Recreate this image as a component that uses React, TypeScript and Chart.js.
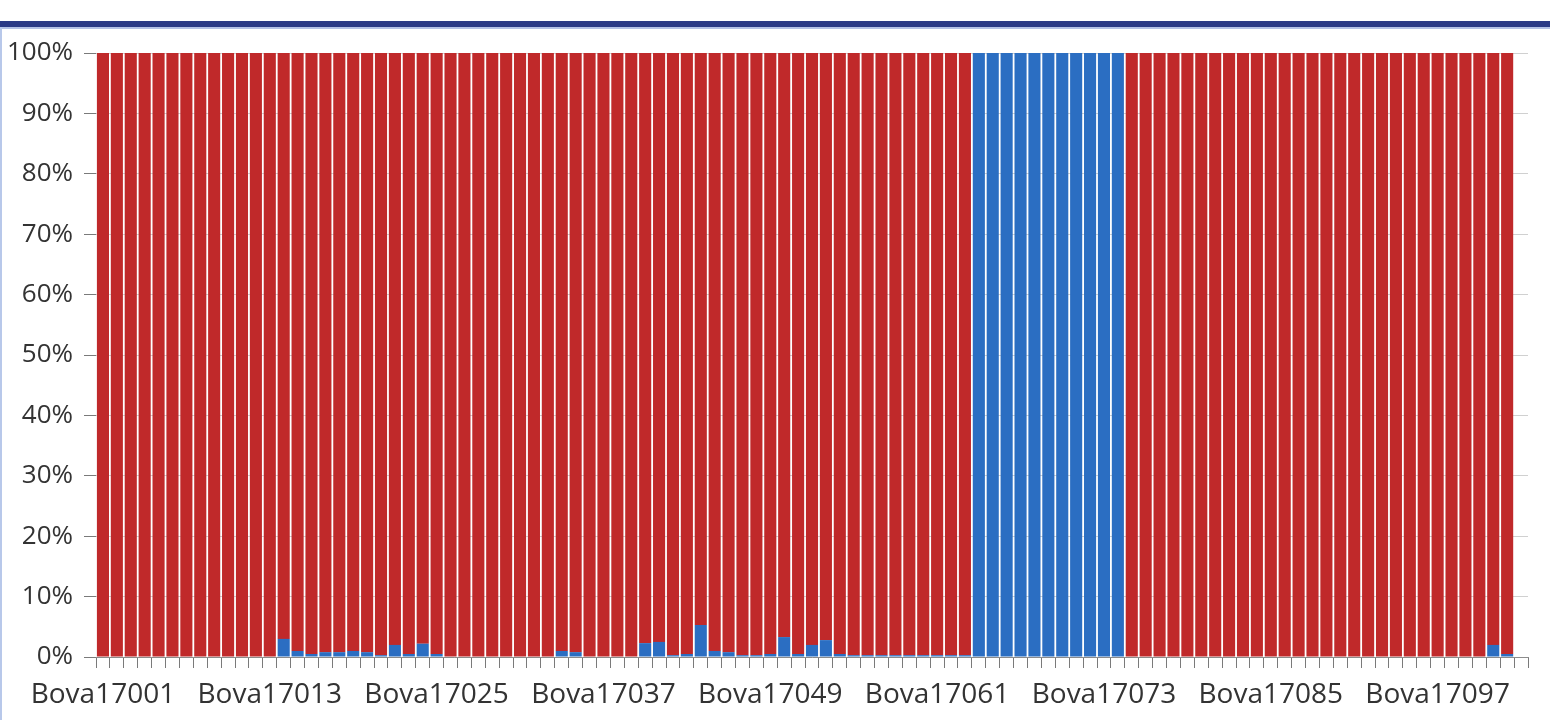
import React, { useEffect, useRef } from "react";
import { Chart, registerables } from "chart.js";

Chart.register(...registerables);

// Categories: Bova17001 ... Bova17102, plus one empty trailing slot
const categories: string[] = Array.from({ length: 103 }, (_, i) => "Bova" + (17001 + i));

// Share (%) of the blue cluster per sample (bottom of each stack)
const blueShare: (number | null)[] = [
  0, 0, 0, 0, 0, 0, 0, 0, 0, 0, 0, 0, 0,
  3.0, 1.0, 0.5, 0.8, 0.8, 1.0, 0.8, 0.3, 2.0, 0.5, 2.2, 0.5,
  0, 0, 0, 0, 0, 0, 0, 0,
  1.0, 0.8,
  0, 0, 0, 0,
  2.3, 2.5, 0.3, 0.5, 5.3, 1.0, 0.8, 0.3, 0.3, 0.5, 3.3, 0.5, 2.0, 2.8, 0.5,
  0.3, 0.3, 0.3, 0.3, 0.3, 0.3, 0.3, 0.3, 0.3,
  100, 100, 100, 100, 100, 100, 100, 100, 100, 100, 100,
  0, 0, 0, 0, 0, 0, 0, 0, 0, 0, 0, 0, 0, 0, 0, 0, 0, 0, 0, 0, 0, 0, 0, 0, 0, 0,
  2.0, 0.5,
  null,
];

// Share (%) of the red cluster per sample (top of each stack)
const redShare: (number | null)[] = [
  100, 100, 100, 100, 100, 100, 100, 100, 100, 100, 100, 100, 100,
  97.0, 99.0, 99.5, 99.2, 99.2, 99.0, 99.2, 99.7, 98.0, 99.5, 97.8, 99.5,
  100, 100, 100, 100, 100, 100, 100, 100,
  99.0, 99.2,
  100, 100, 100, 100,
  97.7, 97.5, 99.7, 99.5, 94.7, 99.0, 99.2, 99.7, 99.7, 99.5, 96.7, 99.5, 98.0, 97.2, 99.5,
  99.7, 99.7, 99.7, 99.7, 99.7, 99.7, 99.7, 99.7, 99.7,
  0, 0, 0, 0, 0, 0, 0, 0, 0, 0, 0,
  100, 100, 100, 100, 100, 100, 100, 100, 100, 100, 100, 100, 100, 100, 100, 100, 100, 100, 100, 100, 100, 100, 100, 100, 100, 100,
  98.0, 99.5,
  null,
];

const yTicks: number[] = [0, 10, 20, 30, 40, 50, 60, 70, 80, 90, 100];
const labelEvery = 12;

export default function App() {
  const canvasRef = useRef<HTMLCanvasElement | null>(null);

  useEffect(() => {
    const canvas = canvasRef.current;
    if (!canvas) return;
    const chart = new Chart(canvas, {
      type: "bar",
      data: {
        labels: categories,
        datasets: [
          {
            label: "Cluster 2",
            data: blueShare,
            backgroundColor: "#2B6EC2",
            barPercentage: 0.87,
            categoryPercentage: 1,
          },
          {
            label: "Cluster 1",
            data: redShare,
            backgroundColor: "#C0292A",
            barPercentage: 0.87,
            categoryPercentage: 1,
          },
        ],
      },
      options: {
        animation: false,
        responsive: false,
        devicePixelRatio: 1,
        layout: { padding: { top: 53, right: 22, bottom: 0, left: 0 } },
        plugins: {
          legend: { display: false },
          tooltip: { enabled: false },
        },
        scales: {
          x: {
            stacked: true,
            offset: true,
            afterFit: (s: any) => {
              s.height = 63;
            },
            grid: {
              drawOnChartArea: false,
              drawTicks: true,
              tickLength: 11,
              tickColor: "#7A7A7A",
              offset: true,
            },
            border: { display: true, color: "#8C8C8C", width: 1 },
            ticks: {
              autoSkip: false,
              maxRotation: 0,
              minRotation: 0,
              padding: 10,
              color: "#333333",
              font: { family: "Open Sans", size: 28 },
              callback: (_v: any, i: number) => (i % labelEvery === 0 ? categories[i] : ""),
            },
          },
          y: {
            stacked: true,
            min: 0,
            max: 100,
            afterFit: (s: any) => {
              s.width = 96;
            },
            afterBuildTicks: (s: any) => {
              s.ticks = yTicks.map((v) => ({ value: v }));
            },
            grid: {
              color: "#D0D0D0",
              drawTicks: true,
              tickLength: 12,
              tickColor: "#7A7A7A",
            },
            border: { display: false },
            ticks: {
              padding: 11,
              color: "#333333",
              font: { family: "Open Sans", size: 26 },
              callback: (v: any) => v + "%",
            },
          },
        },
      },
    });
    return () => chart.destroy();
  }, []);

  return (
    <div
      style={{
        position: "fixed",
        left: 0,
        top: 0,
        width: 1550,
        height: 720,
        background: "#ffffff",
        overflow: "hidden",
      }}
    >
      <canvas
        ref={canvasRef}
        width={1550}
        height={720}
        style={{ position: "absolute", left: 0, top: 0, width: 1550, height: 720 }}
      />
      <div
        style={{
          position: "absolute",
          left: 0,
          top: 21,
          width: 1550,
          height: 6,
          background: "#2A3A86",
        }}
      />
      <div
        style={{
          position: "absolute",
          left: 0,
          top: 27,
          width: 1550,
          height: 2,
          background: "#B4C2E6",
        }}
      />
      <div
        style={{
          position: "absolute",
          left: 0,
          top: 27,
          width: 2,
          height: 693,
          background: "#B8C8EA",
        }}
      />
    </div>
  );
}
